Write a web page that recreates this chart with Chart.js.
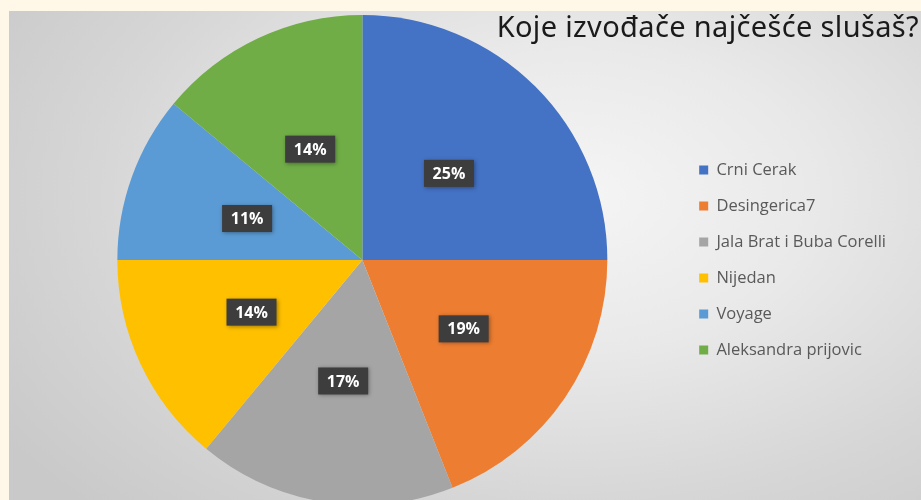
<!DOCTYPE html>
<html>
<head>
<meta charset="utf-8">
<script src="https://cdn.jsdelivr.net/npm/chart.js@4.4.1/dist/chart.umd.min.js"></script>
<style>
  html, body { margin: 0; padding: 0; }
  body { width: 921px; height: 500px; background: #fff8e8; position: relative; overflow: hidden; }
  #wrap { position: absolute; left: 9px; top: 11px; width: 912px; height: 489px;
    background: radial-gradient(ellipse 75% 90% at 62% 38%, #f5f5f5 0%, #e9e9e9 35%, #d6d6d6 70%, #c9c9c9 100%); }
  #title { position: absolute; right: 2px; top: 7px; font-family: "Noto Sans", sans-serif; font-size: 29px;
    letter-spacing: 0.35px; line-height: 38px; color: #1a1a1a; white-space: nowrap; z-index: 2; }
  canvas { position: absolute; left: 0; top: 0; }
</style>
</head>
<body>
<div id="wrap"><canvas id="c" width="912" height="489"></canvas></div>
<div id="title">Koje izvođače najčešće slušaš?</div>
<script>
const categories = ["Crni Cerak", "Desingerica7", "Jala Brat i Buba Corelli", "Nijedan", "Voyage", "Aleksandra prijovic"];
const percentages = [25, 19, 17, 14, 11, 14];
const colors = ["#4472C4", "#ED7D31", "#A5A5A5", "#FFC000", "#5B9BD5", "#70AD47"];

const labelBoxes = {
  id: 'labelBoxes',
  afterDatasetsDraw(chart) {
    const ctx = chart.ctx;
    const meta = chart.getDatasetMeta(0);
    meta.data.forEach((arc, i) => {
      const p = arc.tooltipPosition();
      const txt = percentages[i] + '%';
      const w = 50, h = 27;
      ctx.save();
      ctx.shadowColor = 'rgba(0,0,0,0.35)';
      ctx.shadowBlur = 4;
      ctx.shadowOffsetX = 1;
      ctx.shadowOffsetY = 1;
      ctx.fillStyle = '#3d3d3d';
      ctx.fillRect(p.x - w / 2, p.y - h / 2, w, h);
      ctx.restore();
      ctx.save();
      ctx.fillStyle = '#ffffff';
      ctx.font = 'bold 16px "Open Sans", Lato, sans-serif';
      ctx.textAlign = 'center';
      ctx.textBaseline = 'middle';
      ctx.fillText(txt, p.x, p.y + 1);
      ctx.restore();
    });
  }
};

new Chart(document.getElementById('c'), {
  type: 'pie',
  data: {
    labels: categories,
    datasets: [{
      data: percentages,
      backgroundColor: colors,
      borderWidth: 0,
      radius: 245,
      clip: false
    }]
  },
  options: {
    responsive: false,
    animation: false,
    layout: { padding: { left: 36, right: 25, top: 9, bottom: 0 } },
    plugins: {
      tooltip: { enabled: false },
      legend: {
        position: 'right',
        labels: {
          boxWidth: 9,
          boxHeight: 9,
          padding: 19.5,
          color: '#595959',
          font: { family: '"Open Sans", Lato, sans-serif', size: 16.5 }
        }
      }
    }
  },
  plugins: [labelBoxes]
});
</script>
</body>
</html>
